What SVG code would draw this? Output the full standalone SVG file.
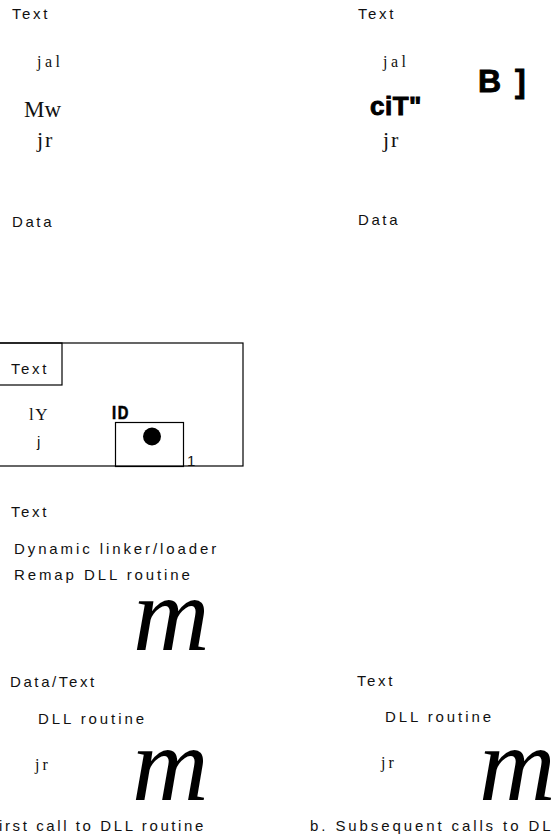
<svg xmlns="http://www.w3.org/2000/svg" width="551" height="837" viewBox="0 0 551 837">
<style>
.s{font-family:"Liberation Sans",Arial,sans-serif;font-size:15px;letter-spacing:2.6px;fill:#111}
.l{font-family:"Liberation Sans",Arial,sans-serif;font-size:15px;letter-spacing:2.9px;fill:#111}
.r{font-family:"Liberation Serif","Times New Roman",serif;fill:#111}
.b{font-family:"Liberation Sans",Arial,sans-serif;font-weight:bold;fill:#000;stroke:#000;stroke-width:0.9px}
.m{font-family:"Liberation Serif","Times New Roman",serif;font-style:italic;font-size:106px;fill:#000}
.box{fill:none;stroke:#000;stroke-width:1.2}
</style>
<rect width="551" height="837" fill="#fff"/>
<g id="left-top">
<text class="s" x="12" y="18.5">Text</text>
<text class="r" x="37" y="67" font-size="16" letter-spacing="3.5">jal</text>
<text class="r" x="24" y="117" font-size="23">Mw</text>
<text class="r" x="37" y="147" font-size="22" letter-spacing="2">jr</text>
<text class="s" x="12" y="227">Data</text>
</g>
<g id="right-top">
<text class="s" x="358" y="18.5">Text</text>
<text class="r" x="383" y="67" font-size="16" letter-spacing="3.5">jal</text>
<text class="b" x="370" y="115" font-size="26" letter-spacing="0.5">ciT"</text>
<text class="b" x="478" y="92" font-size="32" letter-spacing="2.5">B ]</text>
<text class="r" x="383" y="147" font-size="22" letter-spacing="2">jr</text>
<text class="s" x="358" y="225">Data</text>
</g>
<g id="middle">
<rect class="box" x="-1" y="343" width="244" height="123"/>
<rect class="box" x="-1" y="343" width="63" height="42"/>
<text class="s" x="11" y="374">Text</text>
<text class="r" x="29" y="420" font-size="17" letter-spacing="1.5">lY</text>
<text class="s" x="37" y="447">j</text>
<text class="b" x="0" y="419" font-size="18" style="stroke-width:0.6px;letter-spacing:2px" transform="translate(112 0) scale(0.82 1)">ID</text>
<rect class="box" x="115.5" y="422.5" width="68" height="44"/>
<circle cx="152" cy="436.5" r="9" fill="#000"/>
<text class="s" x="187" y="466">1</text>
</g>
<g id="linker">
<text class="s" x="11" y="516.5">Text</text>
<text class="l" x="14" y="554">Dynamic linker/loader</text>
<text class="l" x="14" y="580">Remap DLL routine</text>
<text class="m" x="133" y="650">m</text>
</g>
<g id="first-call">
<text class="s" x="10" y="686.5">Data/Text</text>
<text class="l" x="38" y="724">DLL routine</text>
<text class="r" x="35" y="770" font-size="16" letter-spacing="3">jr</text>
<text class="m" x="132" y="800">m</text>
<text class="l" x="-1" y="831" style="letter-spacing:2.6px">irst call to DLL routine</text>
</g>
<g id="subsequent">
<text class="s" x="357" y="686">Text</text>
<text class="l" x="385" y="722">DLL routine</text>
<text class="r" x="381" y="768" font-size="16" letter-spacing="3">jr</text>
<text class="m" x="479" y="800">m</text>
<text class="l" x="310" y="831">b. Subsequent calls to DL</text>
</g>
<g id="connectors"></g>
</svg>
